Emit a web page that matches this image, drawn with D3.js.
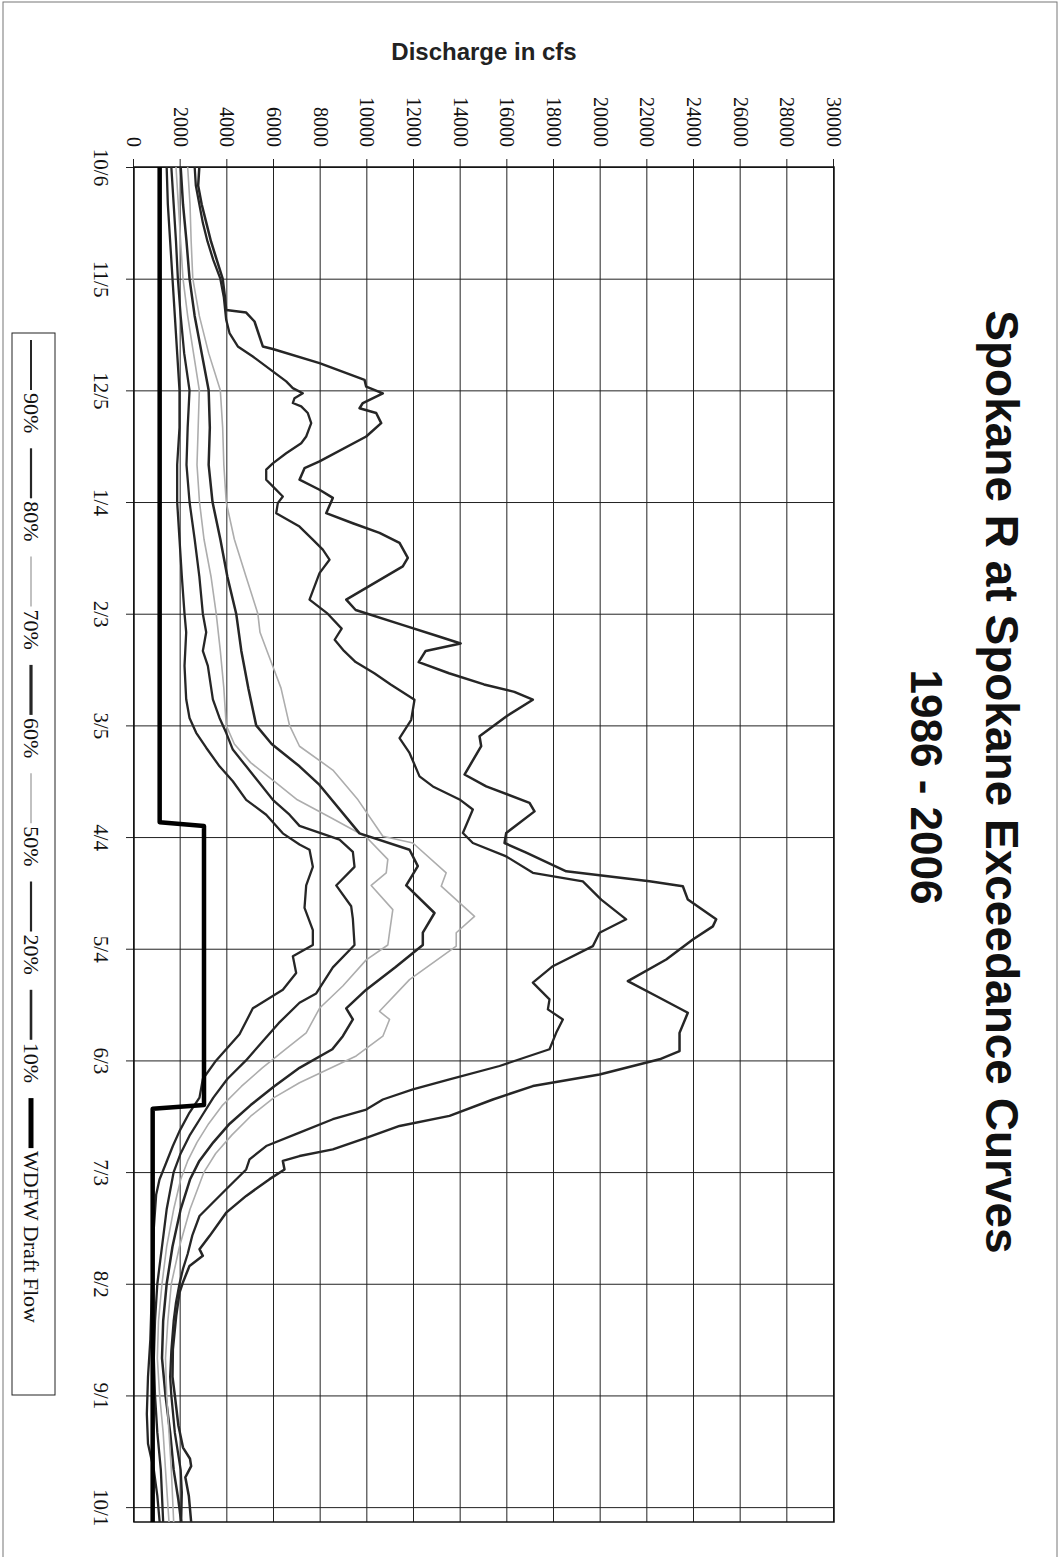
<!DOCTYPE html>
<html>
<head>
<meta charset="utf-8">
<script src="https://cdn.jsdelivr.net/npm/d3@7"></script>
<style>
body { margin: 0; background: #fff; }
</style>
</head>
<body>
<script>
// day index 0 = 10/6, one category per day (365 days)
var dateLabels = ["10/6", "11/5", "12/5", "1/4", "2/3", "3/5", "4/4", "5/4", "6/3", "7/3", "8/2", "9/1", "10/1"];
var tickDays = d3.range(0, 361, 30);
var flowTicks = d3.range(0, 30001, 2000);

// [day, cfs]
var p90 = [[0,1400],[10,1450],[20,1550],[30,1650],[40,1750],[50,1850],[60,1950],[70,1950],[80,1850],[90,1850],[100,1950],[110,2050],[120,2165],[125,2237],[134,2165],[143,2237],[148,2380],[152,2665],[156,3094],[161,3665],[165,4235],[170,4808],[174,5666],[179,6377],[182,7093],[183.4,7522],[188,7665],[193,7380],[199,7308],[205,7665],[209,7665],[212,6808],[216.5,6951],[221,6379],[226,5093],[233,4522],[236,4093],[240,3523],[245,2950],[250,2807],[254,2379],[259,1950],[263,1665],[267.5,1380],[272,1093],[276,951],[285,850],[295,800],[305,750],[315,700],[325,600],[335,550],[343,600],[350,850],[357,1000],[364,1100]];
var p80 = [[0,1600],[10,1700],[20,1800],[30,1880],[40,2000],[50,2150],[60,2380],[70,2300],[80,2250],[90,2380],[100,2600],[110,2800],[120,2950],[125,3094],[130,2950],[134,3165],[143,3380],[148,3665],[152,3951],[156.5,4235],[161,4808],[165.5,5379],[170,5950],[174,6665],[177,7093],[180.7,8808],[184,9380],[188,9451],[193,8666],[198.6,9308],[202,9380],[209,9451],[215,8522],[222,7809],[224.5,7093],[230,6200],[235,5500],[240,4800],[245,4000],[250,3400],[255,2900],[260,2400],[265,2000],[270,1700],[280,1400],[290,1200],[300,1000],[310,900],[320,850],[330,900],[340,1000],[350,1150],[364,1250]];
var p70 = [[0,1800],[10,1900],[20,2000],[30,2100],[40,2300],[50,2550],[60,2800],[70,2750],[80,2700],[90,2807],[100,3000],[110,3300],[120,3523],[130,3700],[140,3850],[150,3951],[155,4300],[160,5000],[165,6000],[170,7000],[175,8500],[180,9952],[186,10878],[189.6,10809],[193,10166],[199.5,11092],[205.7,10951],[209,10878],[213,9952],[220,8949],[226,7951],[232.6,7380],[237,6500],[242,5500],[247,4600],[252,3800],[257,3200],[262,2700],[267,2300],[272,2000],[280,1700],[290,1400],[300,1200],[310,1050],[320,1000],[330,1100],[340,1250],[350,1350],[364,1500]];
var p60 = [[0,2000],[10,2100],[20,2250],[30,2380],[40,2600],[50,2900],[60,3200],[70,3250],[80,3200],[90,3365],[100,3700],[110,4000],[120,4380],[130,4600],[140,4900],[150,5237],[155,5900],[161,7093],[166,7951],[179,9666],[183.4,11808],[187.8,12164],[193,11666],[200.4,12879],[205.7,12378],[209,12378],[215,11200],[221,9952],[226,9095],[229,9380],[233.5,8949],[237,8500],[242,7093],[247,6000],[252,5000],[257,4100],[262,3400],[267,2800],[272,2400],[280,2000],[290,1650],[300,1400],[310,1250],[320,1200],[330,1350],[340,1550],[350,1700],[358,1900],[364,2022]];
var p50 = [[0,2300],[10,2400],[20,2450],[30,2520],[40,2800],[50,3200],[60,3700],[70,3800],[80,3850],[90,3951],[100,4300],[110,4800],[120,5308],[125,5400],[130,5700],[135,6000],[140,6300],[150,6665],[155.6,7093],[162,8521],[170,9600],[179.8,10665],[181.6,11951],[189.6,13380],[193.2,13166],[201.3,14594],[205.7,13810],[209.3,13810],[218.3,11808],[226.8,10522],[229,10951],[233.5,10665],[238.8,9523],[246,7093],[250,6000],[255,5000],[260,4200],[265,3500],[270,3000],[280,2400],[290,1950],[300,1600],[310,1450],[320,1350],[330,1400],[340,1500],[350,1600],[364,1700]];
var p20 = [[0,2600],[5,2650],[10,2800],[15,2950],[20,3150],[25,3400],[30,3700],[35,3850],[41,3950],[44.6,4093],[48.2,4449],[50.9,5092],[54.9,5949],[57.6,6523],[59.4,6806],[60.8,7235],[62.1,6879],[63.4,6806],[64.3,7166],[66.1,7449],[68.8,7595],[72.4,7380],[74.2,7166],[76.9,6523],[79.6,5949],[81.3,5666],[84,5666],[85.8,5949],[88.5,6378],[90.3,6163],[93,6095],[96.6,7093],[100.1,7663],[102.8,8092],[105.5,8379],[109.1,7951],[116.2,7522],[120,8300],[124,8900],[127,8600],[130,9000],[133,9500],[136,10300],[139,11000],[143.1,12022],[148.5,11880],[153.4,11380],[157.4,11808],[163.7,12237],[166.4,12808],[169.9,13952],[172.6,14522],[178.9,14094],[181.6,14522],[185.2,15952],[189.6,17093],[191.9,19236],[196.8,20023],[202.1,21094],[205.7,19952],[209.3,19666],[214.7,17950],[219.1,17093],[223.6,17808],[226.3,17737],[229,18380],[232.6,18094],[237,17808],[241.5,15666],[245.1,13522],[247.8,11951],[250.5,10665],[253.2,9952],[255.8,8521],[259.4,7093],[263,5665],[266.6,4951],[269.3,4808],[274.6,3951],[281.8,2807],[287,2500],[292,2300],[296,2100],[300,1950],[305,1800],[310,1700],[318,1600],[325,1550],[330,1600],[340,1750],[346,1900],[350,2000],[356,2050],[364,2022]];
var p10 = [[0,2800],[5,2750],[10,2900],[15,3100],[20,3300],[25,3550],[30,3800],[35,3900],[38.4,3950],[39.1,4808],[41.5,5165],[48.2,5520],[48.9,5949],[52.7,7951],[57.2,9880],[59,9952],[60.8,10664],[63.4,9807],[64.8,9665],[66.1,10380],[68.8,10594],[72.4,9952],[79.1,7951],[80.9,7308],[84,7093],[86.7,7951],[88.9,8521],[93,8237],[95.7,9378],[98.3,10522],[101,11380],[105,11735],[107.3,11520],[116.2,9095],[119,9500],[123,11500],[126,13000],[128,14000],[130,12500],[133,12200],[136,13500],[139,15000],[141,16300],[143.1,17093],[147.6,15952],[152.9,14808],[155.6,14880],[163.2,14165],[166.4,15095],[170.8,16951],[173.1,17165],[178.9,15952],[181.6,15880],[184.2,16810],[189.2,18524],[191.9,22094],[193.2,23522],[196.8,23736],[202.1,24952],[204,24808],[207.5,23950],[212.9,22810],[218.7,21165],[222.7,22380],[227.2,23736],[232.6,23380],[237.5,23380],[239.7,22523],[243.8,19952],[246.9,17093],[250.5,15380],[254.9,13522],[257.6,11380],[260.8,9952],[263.9,8521],[265.7,7093],[267,6379],[269.3,6450],[271.9,5808],[276.4,4808],[280.9,3951],[287.2,3236],[290.7,2807],[292.5,2950],[295.2,2379],[299.7,2093],[302.4,1950],[308.6,1808],[317.6,1665],[325,1650],[330,1750],[338,1900],[344,2100],[347,2400],[349,2450],[352,2200],[357,2350],[364,2450]];
var wdfw = [[0,1100],[176,1100],[177,3000],[252,3000],[253,800],[364,800]];

var series = [
  {name: "90%", data: p90, color: "#262626", width: 2.3, key: 2},
  {name: "80%", data: p80, color: "#262626", width: 2.3, key: 2.2},
  {name: "70%", data: p70, color: "#adadad", width: 1.6, key: 1.5},
  {name: "60%", data: p60, color: "#262626", width: 2.5, key: 3.2},
  {name: "50%", data: p50, color: "#adadad", width: 1.6, key: 1.5},
  {name: "20%", data: p20, color: "#262626", width: 2.3, key: 2.2},
  {name: "10%", data: p10, color: "#262626", width: 2.5, key: 2.6},
  {name: "WDFW Draft Flow", data: wdfw, color: "#000", width: 4.5, key: 5}
];

var svg = d3.select("body").append("svg")
  .attr("width", 1062)
  .attr("height", 1557);

svg.append("rect")
  .attr("x", 3).attr("y", 2)
  .attr("width", 1054).attr("height", 1600)
  .attr("fill", "none").attr("stroke", "#777").attr("stroke-width", 1);

// the chart is drawn landscape and turned a quarter turn clockwise
var g = svg.append("g").attr("transform", "translate(1062,0) rotate(90)");

var x = d3.scaleLinear().domain([0, 364]).range([167, 1522]);
var y = d3.scaleLinear().domain([0, 30000]).range([928, 228]);

// gridlines
g.append("g")
  .attr("transform", "translate(0,928)")
  .call(d3.axisBottom(x).tickValues(tickDays).tickSize(-700).tickFormat(""))
  .call(a => a.select(".domain").remove())
  .selectAll("line").attr("stroke", "#222").attr("stroke-width", 1);

g.append("g")
  .attr("transform", "translate(167,0)")
  .call(d3.axisLeft(y).tickValues(flowTicks).tickSize(-1355).tickFormat(""))
  .call(a => a.select(".domain").remove())
  .selectAll("line").attr("stroke", "#222").attr("stroke-width", 1);

// axes with labels
var xAxis = g.append("g")
  .attr("transform", "translate(0,928)")
  .call(d3.axisBottom(x).tickValues(tickDays).tickSizeInner(8).tickSizeOuter(0).tickPadding(17)
    .tickFormat((d, i) => dateLabels[i]));
xAxis.select(".domain").remove();
xAxis.selectAll("line").attr("stroke", "#222");
xAxis.selectAll("text").attr("font-family", "'Liberation Serif', 'Times New Roman', serif")
  .attr("font-size", 21).attr("fill", "#111");

var yAxis = g.append("g")
  .attr("transform", "translate(167,0)")
  .call(d3.axisLeft(y).tickValues(flowTicks).tickSizeInner(8).tickSizeOuter(0).tickPadding(12)
    .tickFormat(d3.format("d")));
yAxis.select(".domain").remove();
yAxis.selectAll("line").attr("stroke", "#222");
yAxis.selectAll("text").attr("font-family", "'Liberation Serif', 'Times New Roman', serif")
  .attr("font-size", 20).attr("fill", "#111");

// plot border
g.append("rect")
  .attr("x", 167).attr("y", 228)
  .attr("width", 1355).attr("height", 700)
  .attr("fill", "none").attr("stroke", "#111").attr("stroke-width", 1.5);

var line = d3.line()
  .x(d => x(d[0]))
  .y(d => y(d[1]));

g.selectAll(".curve")
  .data(series)
  .enter()
  .append("path")
  .attr("class", "curve")
  .attr("d", d => line(d.data))
  .attr("fill", "none")
  .attr("stroke", d => d.color)
  .attr("stroke-width", d => d.width)
  .attr("stroke-linejoin", "round");

// titles
g.append("text")
  .attr("x", 782).attr("y", 76)
  .attr("text-anchor", "middle")
  .attr("font-family", "'Liberation Sans', Arial, sans-serif")
  .attr("font-weight", "bold")
  .attr("font-size", 46)
  .attr("fill", "#111")
  .text("Spokane R at Spokane Exceedance Curves");

g.append("text")
  .attr("x", 787).attr("y", 151)
  .attr("text-anchor", "middle")
  .attr("font-family", "'Liberation Sans', Arial, sans-serif")
  .attr("font-weight", "bold")
  .attr("font-size", 44)
  .attr("fill", "#111")
  .text("1986 - 2006");

g.append("text")
  .attr("transform", "translate(60,578) rotate(-90)")
  .attr("text-anchor", "middle")
  .attr("font-family", "'Liberation Sans', Arial, sans-serif")
  .attr("font-weight", "bold")
  .attr("font-size", 24)
  .attr("fill", "#222")
  .text("Discharge in cfs");

// legend
var legend = g.append("g");
legend.append("rect")
  .attr("x", 333).attr("y", 1007)
  .attr("width", 1062).attr("height", 43)
  .attr("fill", "#fff").attr("stroke", "#222").attr("stroke-width", 1);

var items = legend.selectAll(".item")
  .data(series)
  .enter()
  .append("g")
  .attr("transform", (d, i) => "translate(" + (340 + i * 108.3) + ",0)");

items.append("line")
  .attr("x1", 0).attr("x2", 50)
  .attr("y1", 1031).attr("y2", 1031)
  .attr("stroke", d => d.color)
  .attr("stroke-width", d => d.key);

items.append("text")
  .attr("x", 53).attr("y", 1038)
  .attr("font-family", "'Liberation Serif', 'Times New Roman', serif")
  .attr("font-size", 22)
  .attr("fill", "#111")
  .text(d => d.name);
</script>
</body>
</html>
